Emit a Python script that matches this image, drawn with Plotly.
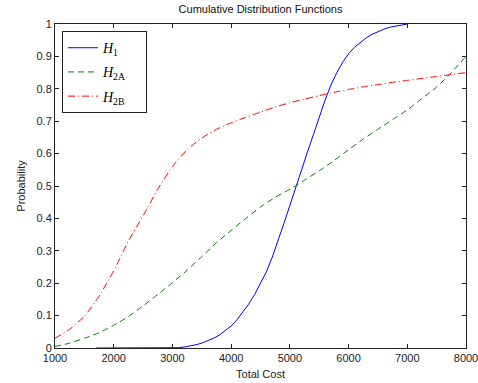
import plotly.graph_objects as go

h1_x = [1700, 2000, 2500, 3000, 3100, 3200, 3300, 3400, 3500, 3600, 3700, 3800, 3900, 4000,
        4100, 4200, 4300, 4400, 4500, 4600, 4700, 4800, 4900, 5000, 5100, 5200, 5300, 5400,
        5500, 5600, 5700, 5800, 5900, 6000, 6100, 6200, 6300, 6400, 6500, 6600, 6700, 6800,
        6900, 7000]
h1_y = [0, 0, 0, 0, 0.001, 0.003, 0.006, 0.01, 0.015, 0.022, 0.03, 0.04, 0.053, 0.068,
        0.087, 0.11, 0.136, 0.165, 0.198, 0.235, 0.28, 0.33, 0.385, 0.44, 0.497, 0.55, 0.605, 0.658,
        0.712, 0.765, 0.812, 0.85, 0.882, 0.908, 0.928, 0.944, 0.957, 0.968, 0.977, 0.984, 0.99, 0.994,
        0.998, 1.0]

cost = [1000, 1250, 1500, 1750, 2000, 2250, 2500, 2750, 3000, 3250, 3500, 3750, 4000, 4250,
        4500, 4750, 5000, 5250, 5500, 5750, 6000, 6250, 6500, 6750, 7000, 7250, 7500, 7750, 8000]
h2a_y = [0.005, 0.015, 0.03, 0.047, 0.07, 0.097, 0.13, 0.165, 0.202, 0.24, 0.282, 0.325, 0.363, 0.40,
         0.435, 0.465, 0.49, 0.518, 0.547, 0.578, 0.612, 0.645, 0.675, 0.705, 0.735, 0.77, 0.805, 0.85, 0.90]
h2b_y = [0.03, 0.058, 0.098, 0.16, 0.238, 0.33, 0.408, 0.49, 0.56, 0.612, 0.648, 0.675, 0.695, 0.712,
         0.728, 0.744, 0.757, 0.768, 0.779, 0.789, 0.798, 0.806, 0.813, 0.82, 0.826, 0.832, 0.838, 0.844, 0.85]

x_ticks = [1000, 2000, 3000, 4000, 5000, 6000, 7000, 8000]
y_ticks = [0, 0.1, 0.2, 0.3, 0.4, 0.5, 0.6, 0.7, 0.8, 0.9, 1]

pad = "&nbsp;&nbsp;&nbsp;&nbsp;"
fig = go.Figure()
fig.add_trace(go.Scatter(x=h1_x, y=h1_y, mode="lines", name="<i>H</i><sub>1</sub>" + pad,
                         legendgroup="a",
                         line=dict(color="#0000ff", width=1)))
fig.add_trace(go.Scatter(x=cost, y=h2a_y, mode="lines", name="<i>H</i><sub>2A</sub>" + pad,
                         legendgroup="b",
                         line=dict(color="#008000", width=1, dash="6px,4px", shape="spline",
                                   smoothing=0.6)))
fig.add_trace(go.Scatter(x=cost, y=h2b_y, mode="lines", name="<i>H</i><sub>2B</sub>" + pad,
                         legendgroup="c",
                         line=dict(color="#ff0000", width=1, dash="7px,3px,1px,3px", shape="spline",
                                   smoothing=0.6)))

axis_common = dict(showline=True, linecolor="#222", linewidth=1, mirror="ticks",
                   ticks="inside", ticklen=4, tickcolor="#222", showgrid=False, zeroline=False,
                   automargin=False, ticklabeloverflow="allow",
                   tickfont=dict(family="Liberation Sans, Arial", size=11, color="#222"))

fig.update_layout(
    width=478, height=383,
    margin=dict(l=55, r=12, t=24, b=35),
    paper_bgcolor="white", plot_bgcolor="white",
    title=dict(text="Cumulative Distribution Functions", x=0.545, xanchor="center",
               y=0.975, yanchor="middle",
               font=dict(family="Liberation Sans, Arial", size=11, color="#111")),
    xaxis=dict(range=[1000, 8000], tickvals=x_ticks,
               title=dict(text="Total Cost", standoff=7,
                          font=dict(family="Liberation Sans, Arial", size=11, color="#222")),
               **axis_common),
    yaxis=dict(range=[0, 1], tickvals=y_ticks,
               title=dict(text="Probability", standoff=8,
                          font=dict(family="Liberation Sans, Arial", size=11, color="#222")),
               **axis_common),
    legend=dict(x=0.017, y=0.978, xanchor="left", yanchor="top",
                bgcolor="white", bordercolor="#222", borderwidth=1,
                font=dict(family="Liberation Serif, Times New Roman", size=14, color="#000"),
                traceorder="grouped", tracegroupgap=3),
    showlegend=True,
)

fig.write_html("out.html")
